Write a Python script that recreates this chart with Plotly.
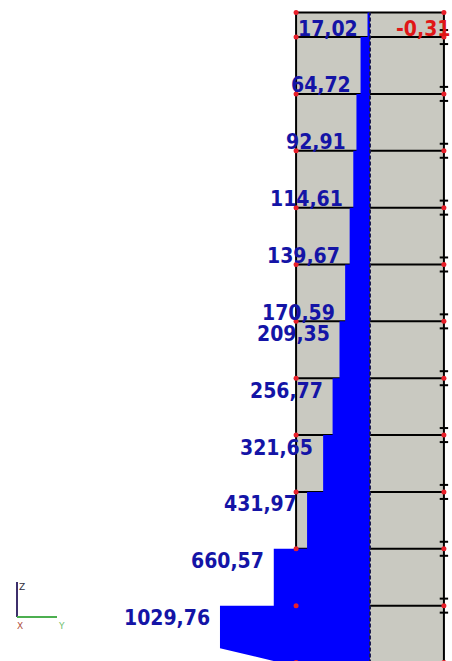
import plotly.graph_objects as go

# Axial force N (kN) per wall segment, listed from the parapet down to the base
axial_force = [17.02, 64.72, 92.91, 114.61, 139.67, 170.59,
               209.35, 256.77, 321.65, 431.97, 660.57, 1029.76]
# Opposite-sign force in the parapet segment
top_force_other = [-0.31]

# Wall geometry (m)
parapet_height = 1.3
storey_height = 3.0
n_storeys = 11
half_width = 3.9
kn_per_m = 130.1          # diagram scale: kN per metre of drawing

# Styles
wall_fill = "#c9c9c1"
diagram_fill = "#0000ff"
label_blue = "#1414a6"
label_red = "#e01616"
node_red = "#e8202a"
label_font = dict(family="DejaVu Sans Condensed, DejaVu Sans", size=21, weight="bold")

# Segment boundaries, top to bottom
floors = [storey_height * k for k in range(n_storeys + 1)]       # 0 .. 33
z_top = floors[-1] + parapet_height
seg_tops = [z_top] + floors[::-1][:-1]
seg_bots = floors[::-1]

px_per_m = 18.953
W, H = 452, 661
x_range = [-370 / px_per_m, (W - 370) / px_per_m]
y_range = [(662.5 - H) / px_per_m, 662.5 / px_per_m]

fig = go.Figure()
shapes = []

# Wall panel and its outline
shapes.append(dict(type="rect", x0=-half_width, x1=half_width, y0=-1, y1=z_top,
                   fillcolor=wall_fill, line=dict(width=0), layer="below"))
for z in [z_top] + floors:
    shapes.append(dict(type="line", x0=-half_width, x1=half_width, y0=z, y1=z,
                       line=dict(color="black", width=2), layer="below"))
for xe in (-half_width, half_width):
    shapes.append(dict(type="line", x0=xe, x1=xe, y0=-1, y1=z_top,
                       line=dict(color="black", width=2), layer="below"))

# Stepped axial force diagram
bevel_h, bevel_x = 0.75, 0.6
xs, ys = [0], [z_top]
for i, (v, zt, zb) in enumerate(zip(axial_force, seg_tops, seg_bots)):
    w = -v / kn_per_m
    xs += [w]
    ys += [zt]
    if i == len(axial_force) - 1:
        xs += [w, w * bevel_x]
        ys += [zb + bevel_h, zb]
    else:
        xs += [w]
        ys += [zb]
xs += [0, 0]
ys += [0, z_top]
fig.add_trace(go.Scatter(x=xs, y=ys, fill="toself", fillcolor=diagram_fill,
                         mode="lines", line=dict(width=0), hoverinfo="skip"))

# Opposite-sign part in the parapet
wr = -top_force_other[0] / kn_per_m
fig.add_trace(go.Scatter(x=[0, wr, wr, 0, 0],
                         y=[seg_tops[0], seg_tops[0], seg_bots[0], seg_bots[0], seg_tops[0]],
                         fill="toself", fillcolor=label_red, mode="lines",
                         line=dict(width=0), hoverinfo="skip"))

# Member axis
shapes.append(dict(type="line", x0=0, x1=0, y0=-1, y1=z_top,
                   line=dict(color="#1c1c50", width=2, dash="4px,2px"), layer="above"))

# Nodes
node_z = [z_top] + floors
fig.add_trace(go.Scatter(x=[half_width] * n_storeys * 2,
                         y=[z + d for z in floors[1:] for d in (0.37, -0.37)],
                         mode="markers", hoverinfo="skip",
                         marker=dict(symbol="line-ew", size=6,
                                     line=dict(color="black", width=2))))
fig.add_trace(go.Scatter(x=[-half_width] * len(node_z) + [half_width] * len(node_z),
                         y=node_z * 2, mode="markers", hoverinfo="skip",
                         marker=dict(color=node_red, size=5)))

# Value labels
annotations = []
n = len(axial_force)
for i, (v, zt, zb) in enumerate(zip(axial_force, seg_tops, seg_bots)):
    text = f"{v:.2f}".replace(".", ",")
    if i < n // 2:
        y, ys_ = zb, 8.5
    else:
        y, ys_ = zt, -12.5
    annotations.append(dict(x=-v / kn_per_m, y=y, text=text, showarrow=False,
                            xanchor="right", yanchor="middle", xshift=-8, yshift=ys_,
                            font=dict(color=label_blue, **label_font)))
annotations.append(dict(x=wr, y=seg_bots[0],
                        text=f"{top_force_other[0]:.2f}".replace(".", ","),
                        showarrow=False, xanchor="left", yanchor="middle",
                        xshift=24, yshift=8.5,
                        font=dict(color=label_red, **label_font)))

# Coordinate triad
tx, ty0, ty1, tx1 = 17 / W, 1 - 582 / H, 1 - 617 / H, 57 / W
shapes.append(dict(type="line", xref="paper", yref="paper", x0=tx, x1=tx, y0=ty0, y1=ty1,
                   line=dict(color="#3d2f6b", width=2)))
shapes.append(dict(type="line", xref="paper", yref="paper", x0=tx, x1=tx1, y0=ty1, y1=ty1,
                   line=dict(color="#4caf50", width=2)))
for t, px, py, c in (("Z", 22, 587, "#303040"), ("X", 20, 626, "#b05040"),
                     ("Y", 62, 626, "#70c070")):
    annotations.append(dict(xref="paper", yref="paper", x=px / W, y=1 - py / H, text=t,
                            showarrow=False, xanchor="center", yanchor="middle",
                            font=dict(family="DejaVu Sans", size=9, color=c)))

fig.update_layout(
    width=W, height=H, autosize=False,
    margin=dict(l=0, r=0, t=0, b=0),
    paper_bgcolor="white", plot_bgcolor="white",
    showlegend=False,
    xaxis=dict(range=x_range, visible=False, fixedrange=True),
    yaxis=dict(range=y_range, visible=False, fixedrange=True),
    shapes=shapes, annotations=annotations,
)

fig.write_html("out.html", config={"displayModeBar": False})
